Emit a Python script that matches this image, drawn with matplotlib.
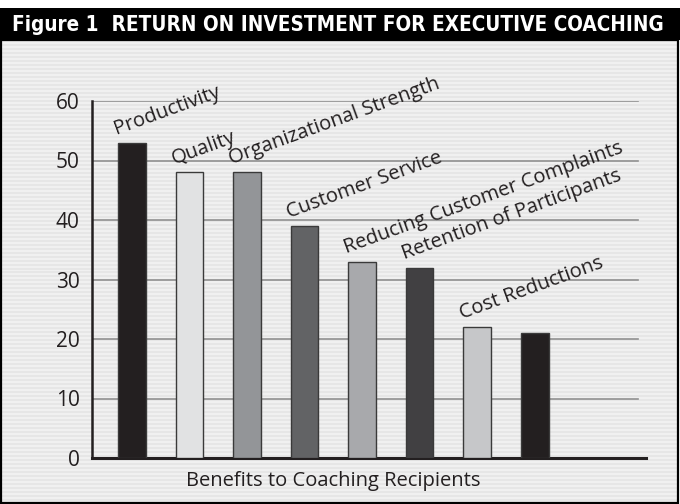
import matplotlib.pyplot as plt
import numpy as np
from matplotlib.patches import Rectangle

# Data
benefits = ["Productivity", "Quality", "Organizational Strength", "Customer Service",
            "Reducing Customer Complaints", "Retention of Participants",
            "Cost Reductions", ""]
percent = [53, 48, 48, 39, 33, 32, 22, 21]
bar_colors = ["#231f20", "#e1e2e3", "#939598", "#626365",
              "#a8a9ac", "#414042", "#c6c7c9", "#231f20"]
yticks = [0, 10, 20, 30, 40, 50, 60]

title = "Figure 1  RETURN ON INVESTMENT FOR EXECUTIVE COACHING"
xlabel = "Benefits to Coaching Recipients"

W, H = 680, 504
fig = plt.figure(figsize=(W / 100, H / 100), dpi=100)
fig.patch.set_facecolor("white")

# striped gray panel behind the chart
bg = fig.add_axes([0, 0, 1, 1], zorder=-1)
bg.set_xlim(0, W)
bg.set_ylim(H, 0)
bg.axis("off")
rows = np.arange(40, H)
stripe = np.where((rows // 2) % 2 == 0, 0.905, 0.945)
img = np.repeat(stripe[:, None], 3, axis=1)
bg.imshow(img[:, None, :], extent=(1, 678, 503, 40),
          aspect="auto", interpolation="nearest", zorder=0)
bg.add_patch(Rectangle((1, 40), 677, 463, fill=False, edgecolor="black", lw=1.6, zorder=2))
bg.add_patch(Rectangle((0, 8), W, 32, facecolor="black", edgecolor="none", zorder=2))
t = bg.text(12, 25, title, color="white", fontsize=17, fontweight="bold",
            family="DejaVu Sans", fontstretch="condensed", va="center", ha="left", zorder=3)

# shrink the header until it fits the band
fig.canvas.draw()
r = fig.canvas.get_renderer()
target = 653
w = t.get_window_extent(r).width
if w > target:
    t.set_fontsize(17 * target / w)

ax = fig.add_axes([92 / W, 1 - 458 / H, (646 - 92) / W, (458 - 101) / H])
ax.set_facecolor("none")

x = np.arange(len(percent))
ax.bar(x, percent, width=0.48, color=bar_colors, edgecolor="#3a3a3a", linewidth=1.0, zorder=3)

for y in yticks[1:]:
    ax.axhline(y, xmin=0, xmax=0.986, color="#909090", lw=1.2, zorder=1)

for i, name in enumerate(benefits):
    if name:
        ax.text(x[i] - 0.27, percent[i] + 1.4, name, rotation=20, rotation_mode="anchor",
                ha="left", va="baseline", fontsize=14.5, color="#231f20",
                family="Open Sans", zorder=4)

ax.set_xlim(-0.69, 8.93)
ax.set_ylim(0, 60)
ax.set_yticks(yticks)
ax.set_yticklabels([str(t) for t in yticks], fontsize=15, family="Open Sans", color="#231f20")
ax.set_xticks([])
ax.tick_params(axis="y", length=0, pad=9)
for side in ["top", "right"]:
    ax.spines[side].set_visible(False)
ax.spines["left"].set_linewidth(1.8)
ax.spines["bottom"].set_linewidth(2.2)
ax.spines["left"].set_color("#231f20")
ax.spines["bottom"].set_color("#231f20")

fig.text(333 / W, 1 - 481 / H, xlabel, ha="center", va="center", fontsize=14.5,
         family="Open Sans", color="#231f20")

fig.savefig("out.png", dpi=100)
